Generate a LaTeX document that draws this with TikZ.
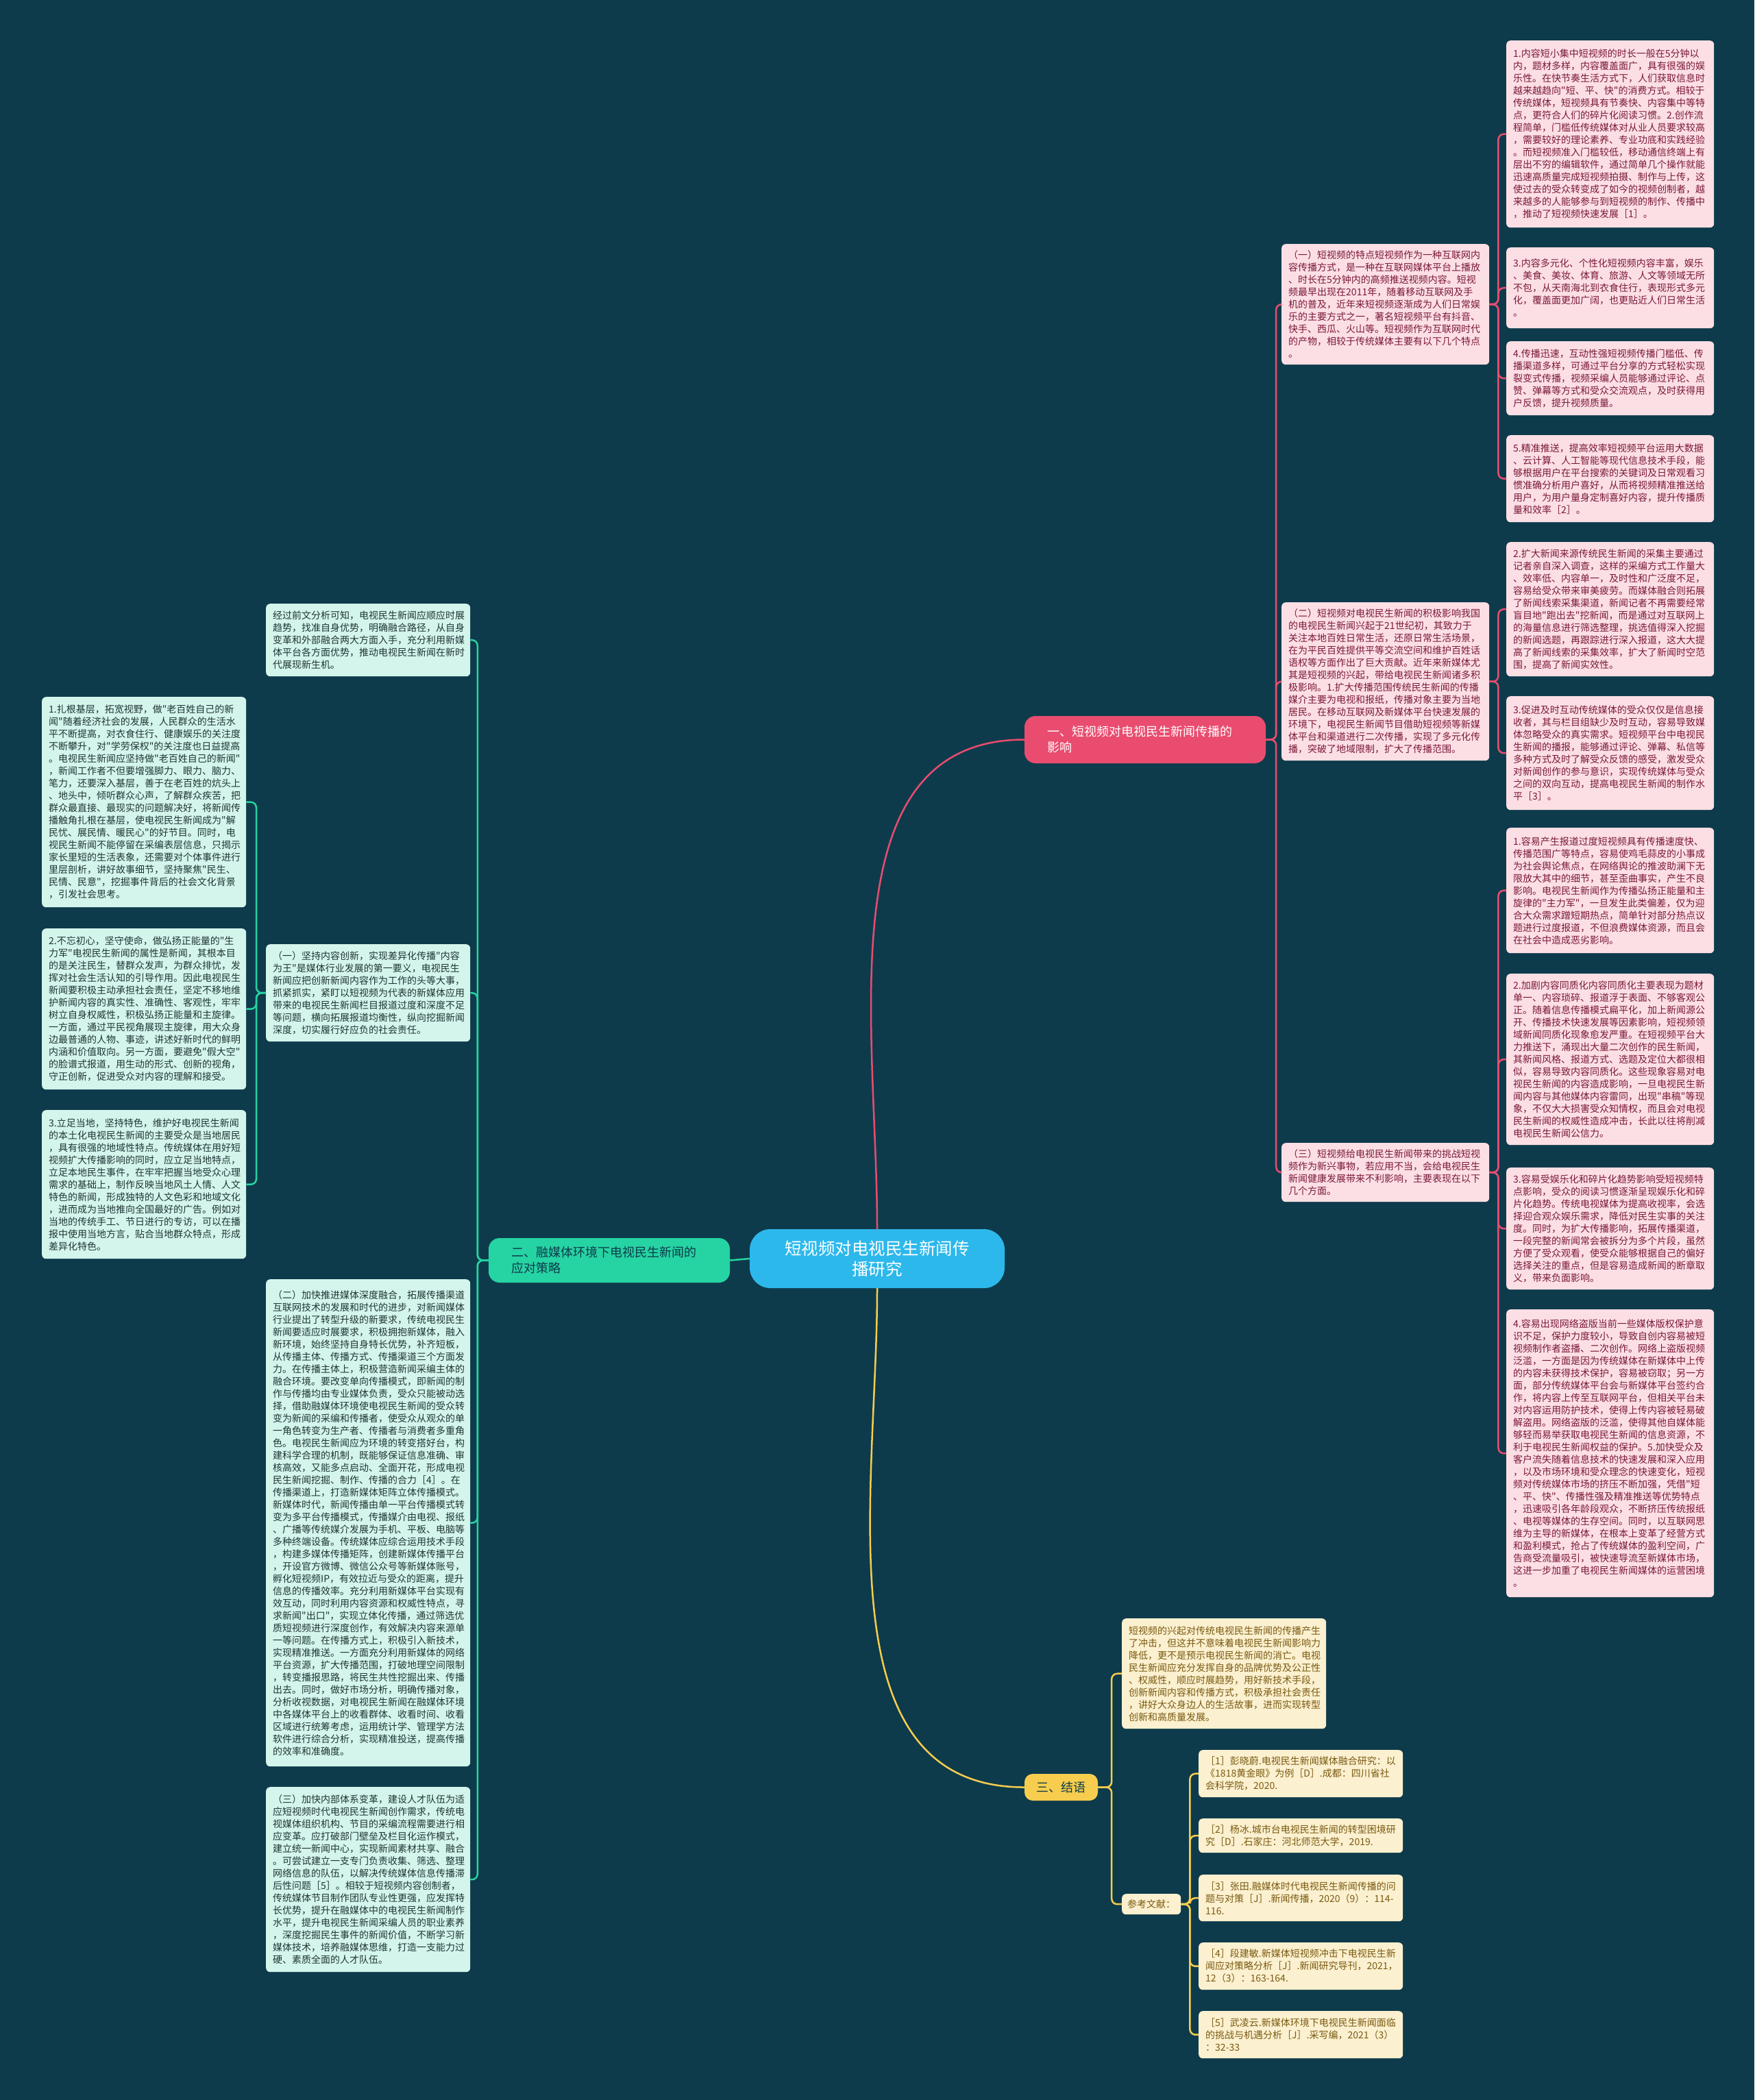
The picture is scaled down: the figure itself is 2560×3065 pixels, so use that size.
\documentclass[tikz,border=0pt]{standalone}
\usepackage{fontspec}
\setmainfont{Noto Sans CJK SC}[Ligatures=TeXOff]
\definecolor{bgc}{HTML}{0E3B4B}
\definecolor{pinkb}{HTML}{E94C6F}
\definecolor{pinkf}{HTML}{FCDFE5}
\definecolor{pinkt}{HTML}{7A1838}
\definecolor{greenb}{HTML}{26D3A2}
\definecolor{greenf}{HTML}{D4F5EC}
\definecolor{greent}{HTML}{1F3535}
\definecolor{yelb}{HTML}{F6CD4E}
\definecolor{yelf}{HTML}{FBF0CF}
\definecolor{yelt}{HTML}{7A5A12}
\definecolor{cenb}{HTML}{2DB8EC}
\tikzset{
  bx/.style={anchor=north west, align=left, inner xsep=10pt, inner ysep=5pt,
    rounded corners=6pt, font=\fontsize{14}{18}\selectfont},
  pbox/.style={bx, fill=pinkf, text=pinkt, text width=283pt},
  gbox/.style={bx, fill=greenf, text=greent, text width=278pt},
  ybox/.style={bx, fill=yelf, text=yelt, text width=278pt},
  branchnode/.style={rounded corners=16pt, align=left, inner sep=0pt,
    font=\fontsize{18}{23}\selectfont},
  pl/.style={draw=pinkb, line width=2.5pt, rounded corners=8pt},
  gl/.style={draw=greenb, line width=2.5pt, rounded corners=8pt},
  yl/.style={draw=yelb, line width=2.5pt, rounded corners=8pt},
}
\begin{document}
\begin{tikzpicture}[x=1pt,y=-1pt]
\fill[bgc] (0,0) rectangle (2560,3065);
\useasboundingbox (0,0) rectangle (2560,3065);

% center and branches
\node[fill=cenb, text=white, rounded corners=30pt, minimum width=372pt, minimum height=86pt,
  align=center, font=\fontsize{24.5}{30}\selectfont] (c) at (1280,1837)
  {短视频对电视民生新闻传\\播研究};
\node[branchnode, fill=pinkb, text=white, minimum width=352pt, minimum height=69pt,
  text width=286pt] (b1) at (1671,1079.5)
  {一、短视频对电视民生新闻传播的\\影响};
\node[branchnode, fill=greenb, text=bgc, minimum width=352pt, minimum height=65pt,
  text width=286pt] (b2) at (889,1839.5)
  {二、融媒体环境下电视民生新闻的\\应对策略};
\node[branchnode, fill=yelb, text=bgc, minimum width=107pt, minimum height=39pt,
  rounded corners=12pt, align=center] (b3) at (1548.5,2608.5) {三、结语};

% ---------- branch 1 ----------
\node[pbox, minimum height=176pt] (p1) at (1870,356) {%
（一）短视频的特点短视频作为一种互联网内\\
容传播方式，是一种在互联网媒体平台上播放\\
、时长在5分钟内的高频推送视频内容。短视\\
频最早出现在2011年，随着移动互联网及手\\
机的普及，近年来短视频逐渐成为人们日常娱\\
乐的主要方式之一，著名短视频平台有抖音、\\
快手、西瓜、火山等。短视频作为互联网时代\\
的产物，相较于传统媒体主要有以下几个特点\\
。};
\node[pbox, minimum height=231pt] (p2) at (1870,879) {%
（二）短视频对电视民生新闻的积极影响我国\\
的电视民生新闻兴起于21世纪初，其致力于\\
关注本地百姓日常生活，还原日常生活场景，\\
在为平民百姓提供平等交流空间和维护百姓话\\
语权等方面作出了巨大贡献。近年来新媒体尤\\
其是短视频的兴起，带给电视民生新闻诸多积\\
极影响。1.扩大传播范围传统民生新闻的传播\\
媒介主要为电视和报纸，传播对象主要为当地\\
居民。在移动互联网及新媒体平台快速发展的\\
环境下，电视民生新闻节目借助短视频等新媒\\
体平台和渠道进行二次传播，实现了多元化传\\
播，突破了地域限制，扩大了传播范围。};
\node[pbox, minimum height=86pt] (p3) at (1870,1668) {%
（三）短视频给电视民生新闻带来的挑战短视\\
频作为新兴事物，若应用不当，会给电视民生\\
新闻健康发展带来不利影响，主要表现在以下\\
几个方面。};

\node[pbox, minimum height=273pt] (r11) at (2198,59) {%
1.内容短小集中短视频的时长一般在5分钟以\\
内，题材多样，内容覆盖面广，具有很强的娱\\
乐性。在快节奏生活方式下，人们获取信息时\\
越来越趋向"短、平、快"的消费方式。相较于\\
传统媒体，短视频具有节奏快、内容集中等特\\
点，更符合人们的碎片化阅读习惯。2.创作流\\
程简单，门槛低传统媒体对从业人员要求较高\\
，需要较好的理论素养、专业功底和实践经验\\
。而短视频准入门槛较低，移动通信终端上有\\
层出不穷的编辑软件，通过简单几个操作就能\\
迅速高质量完成短视频拍摄、制作与上传，这\\
使过去的受众转变成了如今的视频创制者，越\\
来越多的人能够参与到短视频的制作、传播中\\
，推动了短视频快速发展［1］。};
\node[pbox, minimum height=118pt] (r13) at (2198,361) {%
3.内容多元化、个性化短视频内容丰富，娱乐\\
、美食、美妆、体育、旅游、人文等领域无所\\
不包，从天南海北到衣食住行，表现形式多元\\
化，覆盖面更加广阔，也更贴近人们日常生活\\
。};
\node[pbox, minimum height=108pt] (r14) at (2198,498) {%
4.传播迅速，互动性强短视频传播门槛低、传\\
播渠道多样，可通过平台分享的方式轻松实现\\
裂变式传播，视频采编人员能够通过评论、点\\
赞、弹幕等方式和受众交流观点，及时获得用\\
户反馈，提升视频质量。};
\node[pbox, minimum height=127pt] (r15) at (2198,635) {%
5.精准推送，提高效率短视频平台运用大数据\\
、云计算、人工智能等现代信息技术手段，能\\
够根据用户在平台搜索的关键词及日常观看习\\
惯准确分析用户喜好，从而将视频精准推送给\\
用户，为用户量身定制喜好内容，提升传播质\\
量和效率［2］。};
\node[pbox, minimum height=196pt] (r22) at (2198,791) {%
2.扩大新闻来源传统民生新闻的采集主要通过\\
记者亲自深入调查，这样的采编方式工作量大\\
、效率低、内容单一，及时性和广泛度不足，\\
容易给受众带来审美疲劳。而媒体融合则拓展\\
了新闻线索采集渠道，新闻记者不再需要经常\\
盲目地"跑出去"挖新闻，而是通过对互联网上\\
的海量信息进行筛选整理，挑选值得深入挖掘\\
的新闻选题，再跟踪进行深入报道，这大大提\\
高了新闻线索的采集效率，扩大了新闻时空范\\
围，提高了新闻实效性。};
\node[pbox, minimum height=166pt] (r23) at (2198,1016) {%
3.促进及时互动传统媒体的受众仅仅是信息接\\
收者，其与栏目组缺少及时互动，容易导致媒\\
体忽略受众的真实需求。短视频平台中电视民\\
生新闻的播报，能够通过评论、弹幕、私信等\\
多种方式及时了解受众反馈的感受，激发受众\\
对新闻创作的参与意识，实现传统媒体与受众\\
之间的双向互动，提高电视民生新闻的制作水\\
平［3］。};
\node[pbox, minimum height=183pt] (r31) at (2198,1208) {%
1.容易产生报道过度短视频具有传播速度快、\\
传播范围广等特点，容易使鸡毛蒜皮的小事成\\
为社会舆论焦点，在网络舆论的推波助澜下无\\
限放大其中的细节，甚至歪曲事实，产生不良\\
影响。电视民生新闻作为传播弘扬正能量和主\\
旋律的"主力军"，一旦发生此类偏差，仅为迎\\
合大众需求蹭短期热点，简单针对部分热点议\\
题进行过度报道，不但浪费媒体资源，而且会\\
在社会中造成恶劣影响。};
\node[pbox, minimum height=250pt] (r32) at (2198,1421) {%
2.加剧内容同质化内容同质化主要表现为题材\\
单一、内容琐碎、报道浮于表面、不够客观公\\
正。随着信息传播模式扁平化，加上新闻源公\\
开、传播技术快速发展等因素影响，短视频领\\
域新闻同质化现象愈发严重。在短视频平台大\\
力推送下，涌现出大量二次创作的民生新闻，\\
其新闻风格、报道方式、选题及定位大都很相\\
似，容易导致内容同质化。这些现象容易对电\\
视民生新闻的内容造成影响，一旦电视民生新\\
闻内容与其他媒体内容雷同，出现"串稿"等现\\
象，不仅大大损害受众知情权，而且会对电视\\
民生新闻的权威性造成冲击，长此以往将削减\\
电视民生新闻公信力。};
\node[pbox, minimum height=178pt] (r33) at (2198,1704) {%
3.容易受娱乐化和碎片化趋势影响受短视频特\\
点影响，受众的阅读习惯逐渐呈现娱乐化和碎\\
片化趋势。传统电视媒体为提高收视率，会选\\
择迎合观众娱乐需求，降低对民生实事的关注\\
度。同时，为扩大传播影响，拓展传播渠道，\\
一段完整的新闻常会被拆分为多个片段，虽然\\
方便了受众观看，使受众能够根据自己的偏好\\
选择关注的重点，但是容易造成新闻的断章取\\
义，带来负面影响。};
\node[pbox, minimum height=420pt] (r34) at (2198,1911) {%
4.容易出现网络盗版当前一些媒体版权保护意\\
识不足，保护力度较小，导致自创内容易被短\\
视频制作者盗播、二次创作。网络上盗版视频\\
泛滥，一方面是因为传统媒体在新媒体中上传\\
的内容未获得技术保护，容易被窃取；另一方\\
面，部分传统媒体平台会与新媒体平台签约合\\
作，将内容上传至互联网平台，但相关平台未\\
对内容运用防护技术，使得上传内容被轻易破\\
解盗用。网络盗版的泛滥，使得其他自媒体能\\
够轻而易举获取电视民生新闻的信息资源，不\\
利于电视民生新闻权益的保护。5.加快受众及\\
客户流失随着信息技术的快速发展和深入应用\\
，以及市场环境和受众理念的快速变化，短视\\
频对传统媒体市场的挤压不断加强，凭借"短\\
、平、快"、传播性强及精准推送等优势特点\\
，迅速吸引各年龄段观众，不断挤压传统报纸\\
、电视等媒体的生存空间。同时，以互联网思\\
维为主导的新媒体，在根本上变革了经营方式\\
和盈利模式，抢占了传统媒体的盈利空间，广\\
告商受流量吸引，被快速导流至新媒体市场，\\
这进一步加重了电视民生新闻媒体的运营困境\\
。};

% ---------- branch 2 ----------
\node[gbox, minimum height=106pt] (g0) at (388,881) {%
经过前文分析可知，电视民生新闻应顺应时展\\
趋势，找准自身优势，明确融合路径，从自身\\
变革和外部融合两大方面入手，充分利用新媒\\
体平台各方面优势，推动电视民生新闻在新时\\
代展现新生机。};
\node[gbox, minimum height=142pt] (g1) at (388,1378) {%
（一）坚持内容创新，实现差异化传播"内容\\
为王"是媒体行业发展的第一要义，电视民生\\
新闻应把创新新闻内容作为工作的头等大事，\\
抓紧抓实，紧盯以短视频为代表的新媒体应用\\
带来的电视民生新闻栏目报道过度和深度不足\\
等问题，横向拓展报道均衡性，纵向挖掘新闻\\
深度，切实履行好应负的社会责任。};
\node[gbox, minimum height=711pt] (g2) at (388,1867) {%
（二）加快推进媒体深度融合，拓展传播渠道\\
互联网技术的发展和时代的进步，对新闻媒体\\
行业提出了转型升级的新要求，传统电视民生\\
新闻要适应时展要求，积极拥抱新媒体，融入\\
新环境，始终坚持自身特长优势，补齐短板，\\
从传播主体、传播方式、传播渠道三个方面发\\
力。在传播主体上，积极营造新闻采编主体的\\
融合环境。要改变单向传播模式，即新闻的制\\
作与传播均由专业媒体负责，受众只能被动选\\
择，借助融媒体环境使电视民生新闻的受众转\\
变为新闻的采编和传播者，使受众从观众的单\\
一角色转变为生产者、传播者与消费者多重角\\
色。电视民生新闻应为环境的转变搭好台，构\\
建科学合理的机制，既能够保证信息准确、审\\
核高效，又能多点启动、全面开花，形成电视\\
民生新闻挖掘、制作、传播的合力［4］。在\\
传播渠道上，打造新媒体矩阵立体传播模式。\\
新媒体时代，新闻传播由单一平台传播模式转\\
变为多平台传播模式，传播媒介由电视、报纸\\
、广播等传统媒介发展为手机、平板、电脑等\\
多种终端设备。传统媒体应综合运用技术手段\\
，构建多媒体传播矩阵，创建新媒体传播平台\\
，开设官方微博、微信公众号等新媒体账号，\\
孵化短视频IP，有效拉近与受众的距离，提升\\
信息的传播效率。充分利用新媒体平台实现有\\
效互动，同时利用内容资源和权威性特点，寻\\
求新闻"出口"，实现立体化传播，通过筛选优\\
质短视频进行深度创作，有效解决内容来源单\\
一等问题。在传播方式上，积极引入新技术，\\
实现精准推送。一方面充分利用新媒体的网络\\
平台资源，扩大传播范围，打破地理空间限制\\
，转变播报思路，将民生共性挖掘出来、传播\\
出去。同时，做好市场分析，明确传播对象，\\
分析收视数据，对电视民生新闻在融媒体环境\\
中各媒体平台上的收看群体、收看时间、收看\\
区域进行统筹考虑，运用统计学、管理学方法\\
软件进行综合分析，实现精准投送，提高传播\\
的效率和准确度。};
\node[gbox, minimum height=270pt] (g3) at (388,2608) {%
（三）加快内部体系变革，建设人才队伍为适\\
应短视频时代电视民生新闻创作需求，传统电\\
视媒体组织机构、节目的采编流程需要进行相\\
应变革。应打破部门壁垒及栏目化运作模式，\\
建立统一新闻中心，实现新闻素材共享、融合\\
。可尝试建立一支专门负责收集、筛选、整理\\
网络信息的队伍，以解决传统媒体信息传播滞\\
后性问题［5］。相较于短视频内容创制者，\\
传统媒体节目制作团队专业性更强，应发挥特\\
长优势，提升在融媒体中的电视民生新闻制作\\
水平，提升电视民生新闻采编人员的职业素养\\
，深度挖掘民生事件的新闻价值，不断学习新\\
媒体技术，培养融媒体思维，打造一支能力过\\
硬、素质全面的人才队伍。};
\node[gbox, minimum height=307pt] (g11) at (61,1017) {%
1.扎根基层，拓宽视野，做"老百姓自己的新\\
闻"随着经济社会的发展，人民群众的生活水\\
平不断提高，对衣食住行、健康娱乐的关注度\\
不断攀升，对"学劳保权"的关注度也日益提高\\
。电视民生新闻应坚持做"老百姓自己的新闻"\\
，新闻工作者不但要增强脚力、眼力、脑力、\\
笔力，还要深入基层，善于在老百姓的炕头上\\
、地头中，倾听群众心声，了解群众疾苦，把\\
群众最直接、最现实的问题解决好，将新闻传\\
播触角扎根在基层，使电视民生新闻成为"解\\
民忧、展民情、暖民心"的好节目。同时，电\\
视民生新闻不能停留在采编表层信息，只揭示\\
家长里短的生活表象，还需要对个体事件进行\\
里层剖析，讲好故事细节，坚持聚焦"民生、\\
民情、民意"，挖掘事件背后的社会文化背景\\
，引发社会思考。};
\node[gbox, minimum height=235pt] (g12) at (61,1355) {%
2.不忘初心，坚守使命，做弘扬正能量的"生\\
力军"电视民生新闻的属性是新闻，其根本目\\
的是关注民生，替群众发声，为群众排忧，发\\
挥对社会生活认知的引导作用。因此电视民生\\
新闻要积极主动承担社会责任，坚定不移地维\\
护新闻内容的真实性、准确性、客观性，牢牢\\
树立自身权威性，积极弘扬正能量和主旋律。\\
一方面，通过平民视角展现主旋律，用大众身\\
边最普通的人物、事迹，讲述好新时代的鲜明\\
内涵和价值取向。另一方面，要避免"假大空"\\
的脸谱式报道，用生动的形式、创新的视角，\\
守正创新，促进受众对内容的理解和接受。};
\node[gbox, minimum height=217pt] (g13) at (61,1620) {%
3.立足当地，坚持特色，维护好电视民生新闻\\
的本土化电视民生新闻的主要受众是当地居民\\
，具有很强的地域性特点。传统媒体在用好短\\
视频扩大传播影响的同时，应立足当地特点，\\
立足本地民生事件，在牢牢把握当地受众心理\\
需求的基础上，制作反映当地风土人情、人文\\
特色的新闻，形成独特的人文色彩和地域文化\\
，进而成为当地推向全国最好的广告。例如对\\
当地的传统手工、节日进行的专访，可以在播\\
报中使用当地方言，贴合当地群众特点，形成\\
差异化特色。};

% ---------- branch 3 ----------
\node[ybox, minimum height=161pt] (y1) at (1637,2362) {%
短视频的兴起对传统电视民生新闻的传播产生\\
了冲击，但这并不意味着电视民生新闻影响力\\
降低，更不是预示电视民生新闻的消亡。电视\\
民生新闻应充分发挥自身的品牌优势及公正性\\
、权威性，顺应时展趋势，用好新技术手段，\\
创新新闻内容和传播方式，积极承担社会责任\\
，讲好大众身边人的生活故事，进而实现转型\\
创新和高质量发展。};
\node[bx, fill=yelf, text=yelt, minimum height=30pt, inner xsep=8pt, inner ysep=3pt] (yref) at (1637,2764) {参考文献：};
\node[ybox, minimum height=69pt] (ref1) at (1749,2554) {%
［1］彭晓蔚.电视民生新闻媒体融合研究：以\\
《1818黄金眼》为例［D］.成都：四川省社\\
会科学院，2020.};
\node[ybox, minimum height=50pt] (ref2) at (1749,2654) {%
［2］杨冰.城市台电视民生新闻的转型困境研\\
究［D］.石家庄：河北师范大学，2019.};
\node[ybox, minimum height=68pt] (ref3) at (1749,2736) {%
［3］张田.融媒体时代电视民生新闻传播的问\\
题与对策［J］.新闻传播，2020（9）：114-\\
116.};
\node[ybox, minimum height=69pt] (ref4) at (1749,2835) {%
［4］段建敏.新媒体短视频冲击下电视民生新\\
闻应对策略分析［J］.新闻研究导刊，2021，\\
12（3）：163-164.};
\node[ybox, minimum height=69pt] (ref5) at (1749,2935) {%
［5］武凌云.新媒体环境下电视民生新闻面临\\
的挑战与机遇分析［J］.采写编，2021（3）\\
：32-33};

% ---------- connectors ----------
\draw[draw=pinkb, line width=2.5pt] (c.north) to[out=90,in=180] (b1.west);
\draw[draw=yelb, line width=2.5pt] (c.south) to[out=-90,in=180] (b3.west);
\draw[draw=greenb, line width=2.5pt] (c.west) -- (b2.east);

\foreach \n in {p1,p2,p3} \draw[pl] (b1.east) -- ++(15,0) |- (\n.west);
\foreach \n in {r11,r13,r14,r15} \draw[pl] (p1.east) -- ++(13,0) |- (\n.west);
\foreach \n in {r22,r23} \draw[pl] (p2.east) -- ++(13,0) |- (\n.west);
\foreach \n in {r31,r32,r33,r34} \draw[pl] (p3.east) -- ++(13,0) |- (\n.west);

\foreach \n in {g0,g1,g2,g3} \draw[gl] (b2.west) -- ++(-16,0) |- (\n.east);
\foreach \n in {g11,g12,g13} \draw[gl] (g1.west) -- ++(-14,0) |- (\n.east);

\foreach \n in {y1,yref} \draw[yl] (b3.east) -- ++(20,0) |- (\n.west);
\foreach \n in {ref1,ref2,ref3,ref4,ref5} \draw[yl] (yref.east) -- ++(13,0) |- (\n.west);
\end{tikzpicture}
\end{document}
